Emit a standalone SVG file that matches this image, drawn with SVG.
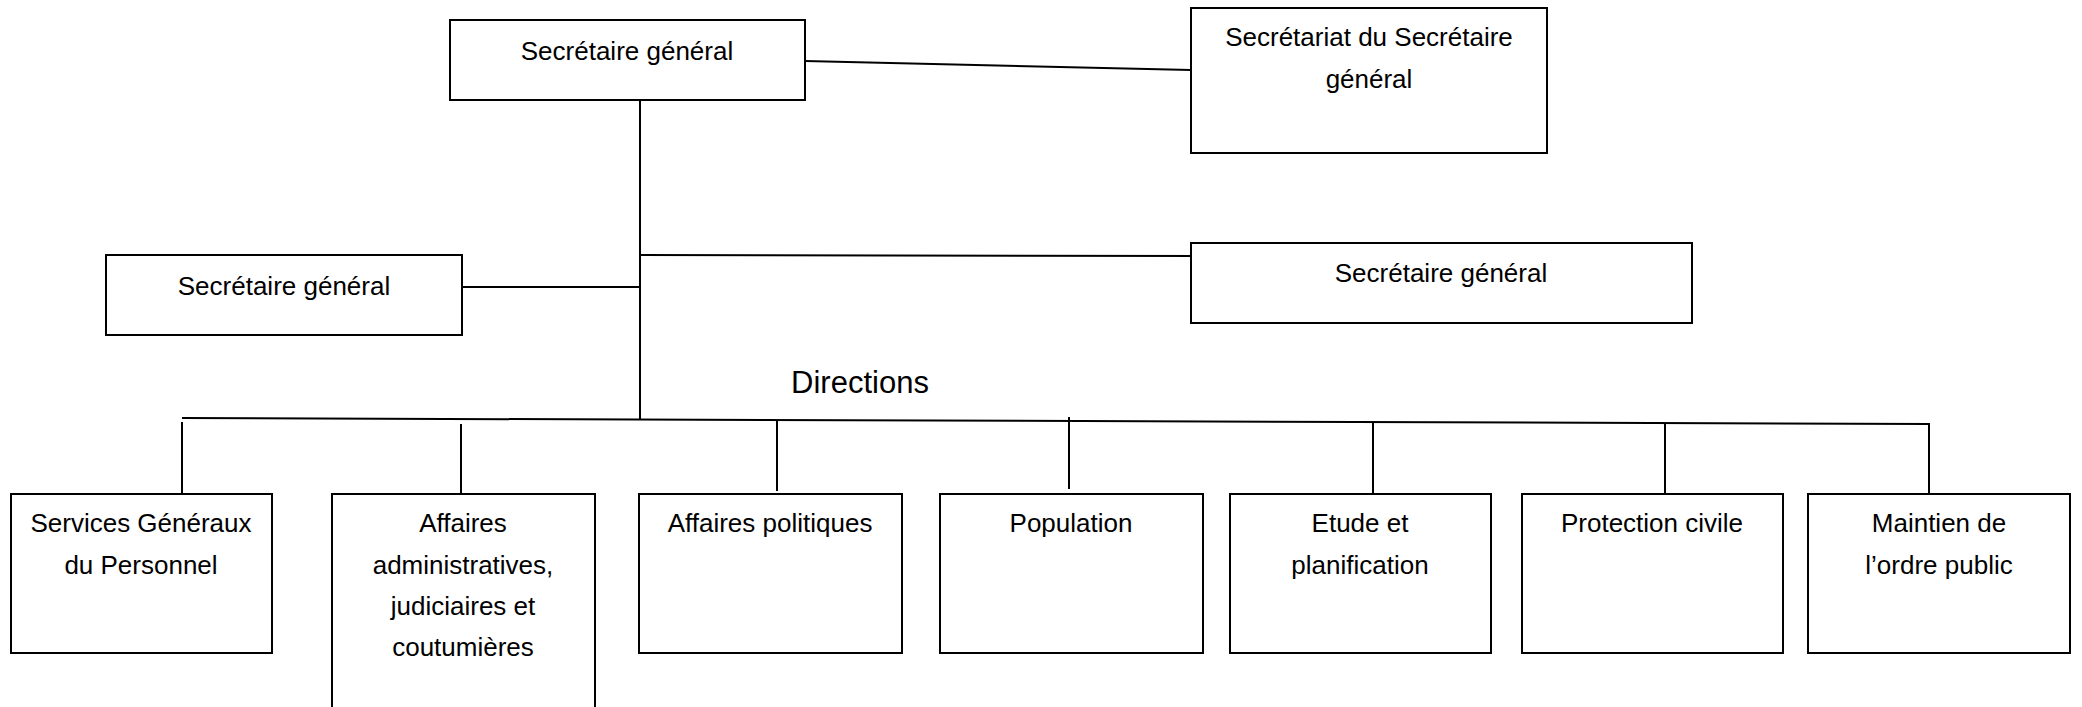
<svg xmlns="http://www.w3.org/2000/svg" width="2082" height="707" viewBox="0 0 2082 707">
<style>
.box{fill:#fff;stroke:#000;stroke-width:2}
.ln{stroke:#000;stroke-width:2;fill:none}
text{font-family:"Liberation Sans",Arial,sans-serif;font-size:26px;fill:#000;text-anchor:middle}
.big{font-size:31px}
</style>
<rect width="2082" height="707" fill="#fff"/>
<g id="connectors">
<line class="ln" x1="805" y1="61" x2="1191" y2="70"/>
<line class="ln" x1="640" y1="100" x2="640" y2="420"/>
<line class="ln" x1="462" y1="287" x2="640" y2="287"/>
<line class="ln" x1="640" y1="255" x2="1203" y2="256"/>
<line class="ln" x1="182" y1="418" x2="1929" y2="424"/>
<line class="ln" x1="182" y1="422" x2="182" y2="494"/>
<line class="ln" x1="461" y1="424" x2="461" y2="494"/>
<line class="ln" x1="777" y1="420" x2="777" y2="491"/>
<line class="ln" x1="1069" y1="417" x2="1069" y2="489"/>
<line class="ln" x1="1373" y1="423" x2="1373" y2="494"/>
<line class="ln" x1="1665" y1="423" x2="1665" y2="494"/>
<line class="ln" x1="1929" y1="423" x2="1929" y2="494"/>
</g>
<g id="sg-top"><rect class="box" x="450" y="20" width="355" height="80"/><text x="627" y="60">Secrétaire général</text></g>
<g id="secretariat"><rect class="box" x="1191" y="8" width="356" height="145"/><text x="1369" y="46">Secrétariat du Secrétaire</text><text x="1369" y="88">général</text></g>
<g id="sg-left"><rect class="box" x="106" y="255" width="356" height="80"/><text x="284" y="295">Secrétaire général</text></g>
<g id="sg-right"><rect class="box" x="1191" y="243" width="501" height="80"/><text x="1441" y="282">Secrétaire général</text></g>
<g id="directions-label"><text class="big" x="860" y="393">Directions</text></g>
<g id="d1"><rect class="box" x="11" y="494" width="261" height="159"/><text x="141" y="532">Services Généraux</text><text x="141" y="574">du Personnel</text></g>
<g id="d2"><rect class="box" x="332" y="494" width="263" height="240"/><text x="463" y="532">Affaires</text><text x="463" y="574">administratives,</text><text x="463" y="615">judiciaires et</text><text x="463" y="656">coutumières</text></g>
<g id="d3"><rect class="box" x="639" y="494" width="263" height="159"/><text x="770" y="532">Affaires politiques</text></g>
<g id="d4"><rect class="box" x="940" y="494" width="263" height="159"/><text x="1071" y="532">Population</text></g>
<g id="d5"><rect class="box" x="1230" y="494" width="261" height="159"/><text x="1360" y="532">Etude et</text><text x="1360" y="574">planification</text></g>
<g id="d6"><rect class="box" x="1522" y="494" width="261" height="159"/><text x="1652" y="532">Protection civile</text></g>
<g id="d7"><rect class="box" x="1808" y="494" width="262" height="159"/><text x="1939" y="532">Maintien de</text><text x="1939" y="574">l’ordre public</text></g>
</svg>
